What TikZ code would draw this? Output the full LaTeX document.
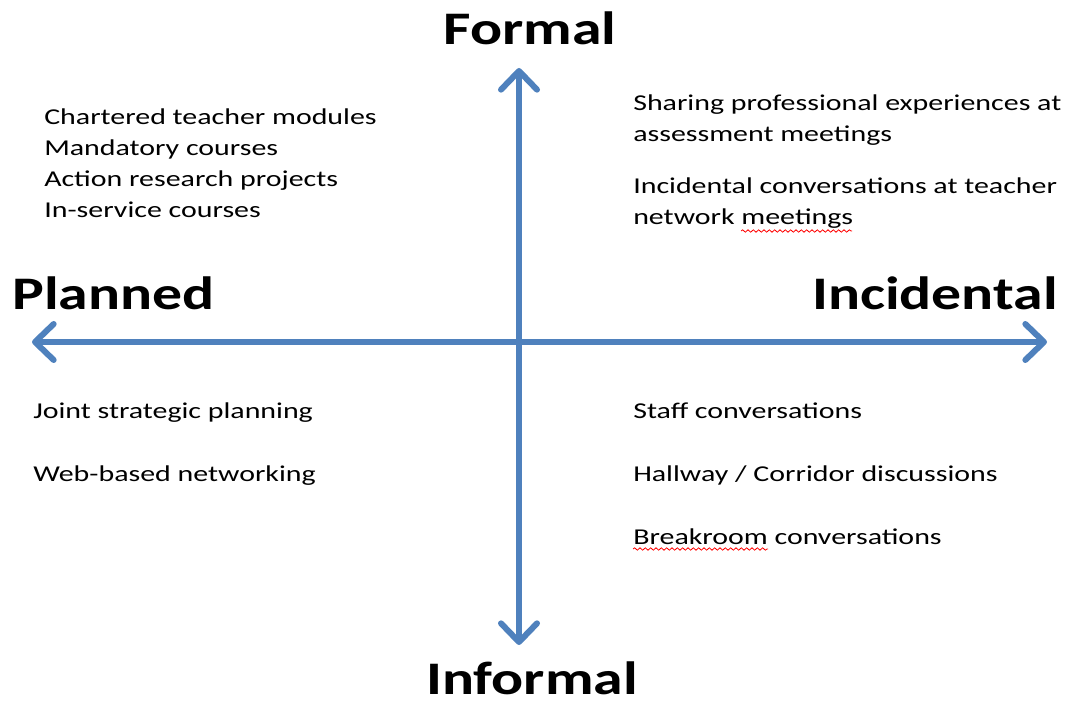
\documentclass[tikz,border=0pt]{standalone}
\usepackage{fontspec}
\setmainfont{Carlito}[FakeStretch=1.32]
\newfontfamily\polefont{Carlito}[FakeStretch=1.28]
\usetikzlibrary{arrows.meta,decorations.pathmorphing}
\definecolor{axisblue}{HTML}{4F81BD}
\tikzset{
  axis/.style = {draw=axisblue, line width=4.5pt, {Straight Barb[length=14pt, width=27pt, round]}-{Straight Barb[length=14pt, width=27pt, round]}},
  pole/.style = {font=\fontsize{35pt}{40pt}\polefont\bfseries, inner sep=0pt},
  item/.style = {font=\fontsize{17pt}{23pt}\selectfont, inner sep=0pt, anchor=base west},
  squiggle/.style = {draw=red, line width=0.6pt, decorate, decoration={snake, amplitude=0.9pt, segment length=4pt}}
}
\begin{document}
\begin{tikzpicture}[x=0.75pt, y=-0.75pt]
  \useasboundingbox (0,0) rectangle (1072,702);
  % axes
  \coordinate (top) at (519,68);
  \coordinate (bot) at (519,645);
  \coordinate (west) at (32,342);
  \coordinate (east) at (1047,342);
  \draw[axis] (top) -- (bot);
  \draw[axis] (west) -- (east);
  % pole labels
  \node[pole] (formal) at (530,28) {Formal};
  \node[pole] (informal) at (532,678) {Informal};
  \node[pole, anchor=west] (planned) at (12,293) {Planned};
  \node[pole, anchor=east] (incidental) at (1058,293) {Incidental};
  % quadrant texts
  \foreach \t [count=\i] in {Chartered teacher modules, Mandatory courses, Action research projects, In-service courses}
    \node[item] (tl\i) at (44,94+31*\i) {\t};
  \node[item] (tr1) at (633,111) {Sharing professional experiences at};
  \node[item] (tr2) at (633,142) {assessment meetings};
  \node[item] (tr3) at (633,194) {Incidental conversations at teacher};
  \node[item] (tr4) at (633,225) {network meetings};
  \node[item] (bl1) at (33,419) {Joint strategic planning};
  \node[item] (bl2) at (33,481) {Web-based networking};
  \node[item] (br1) at (633,419) {Staff conversations};
  \node[item] (br2) at (633,482) {Hallway / Corridor discussions};
  \node[item] (br3) at (633,544) {Breakroom conversations};
  % spelling marks
  \draw[squiggle] (741,231) -- (852,231);
  \draw[squiggle] (633,549) -- (768,549);
\end{tikzpicture}
\end{document}
